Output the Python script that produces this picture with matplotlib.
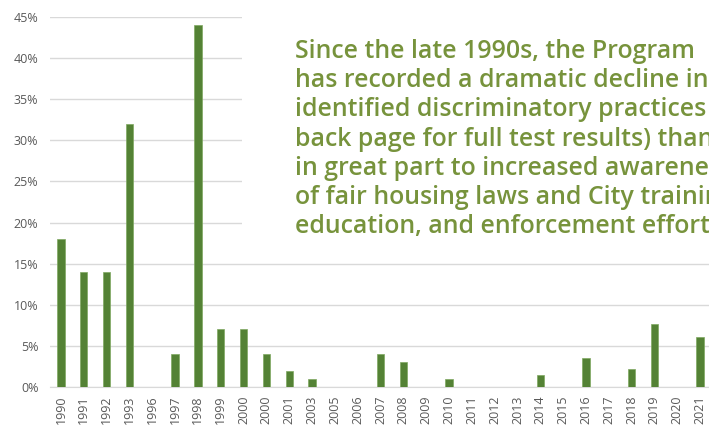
import matplotlib
matplotlib.use("Agg")
import matplotlib.pyplot as plt
from matplotlib.ticker import FuncFormatter, MultipleLocator

years = ["1990", "1991", "1992", "1993", "1996", "1997", "1998", "1999", "2000", "2000",
         "2001", "2003", "2005", "2006", "2007", "2008", "2009", "2010", "2011", "2012",
         "2013", "2014", "2015", "2016", "2017", "2018", "2019", "2020", "2021"]
rates = [18, 14, 14, 32, 0, 4, 44, 7, 7, 4,
         2, 1, 0, 0, 4, 3, 0, 1, 0, 0,
         0, 1.4, 0, 3.5, 0, 2.2, 7.7, 0, 6.1]

note_lines = ["Since the late 1990s, the Program",
              "has recorded a dramatic decline in",
              "identified discriminatory practices (see",
              "back page for full test results) thanks",
              "in great part to increased awareness",
              "of fair housing laws and City training,",
              "education, and enforcement efforts."]

plt.rcParams['font.family'] = ['Open Sans', 'DejaVu Sans']

W, H = 709, 429
fig = plt.figure(figsize=(W / 100, H / 100), dpi=100)
ax = fig.add_axes([49.5 / W, 1 - 387 / H, (711.5 - 49.5) / W, (387 - 17) / H])

x = list(range(len(years)))
ax.bar(x, rates, width=0.32, color="#548235", edgecolor="#7fa860", linewidth=0.5, zorder=3)

ax.set_xlim(-0.5, len(years) - 0.5)
ax.set_ylim(0, 45)
ax.yaxis.set_major_locator(MultipleLocator(5))
ax.yaxis.set_major_formatter(FuncFormatter(lambda v, p: f"{int(round(v))}%"))
ax.set_xticks(x)
ax.set_xticklabels(years, rotation=90)
ax.tick_params(axis='both', length=0, colors="#595959", labelsize=9)
ax.tick_params(axis='x', pad=6)
ax.tick_params(axis='y', pad=8)
ax.grid(axis='y', color="#d9d9d9", linewidth=1, zorder=0)
for s in ['top', 'right', 'left']:
    ax.spines[s].set_visible(False)
ax.spines['bottom'].set_color("#d9d9d9")

# white note box covering upper gridlines
fig.patches.append(plt.Rectangle((242 / W, 1 - 250 / H), 1, 1, transform=fig.transFigure,
                                 facecolor="white", edgecolor="none", zorder=5))
for i, line in enumerate(note_lines):
    fig.text(295 / W, 1 - (58 + 29.2 * i) / H, line, ha='left', va='baseline',
             fontsize=17.9, fontweight='semibold', color="#77933c", zorder=6)

fig.savefig("out.png", dpi=100)
